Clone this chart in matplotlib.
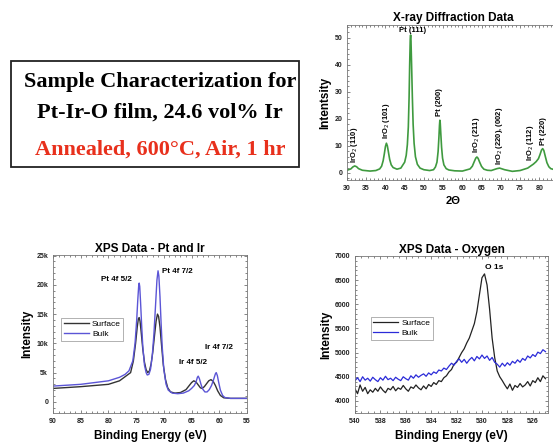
import numpy as np
import matplotlib
matplotlib.use('Agg')
import matplotlib.pyplot as plt
from matplotlib.patches import Rectangle

# ---- XRD data (2-theta, intensity) ----
xrd_2theta = [30, 31, 31.5, 32, 32.5, 33, 34, 36, 37.5, 38.5, 39, 39.4, 39.7, 40, 40.25, 40.5,
              40.8, 41.1, 41.5, 42, 43, 44, 45.0, 45.4, 45.7, 45.95, 46.15, 46.3, 46.45, 46.55,
              46.65, 46.8, 47.0, 47.2, 47.45, 47.8, 48.3, 49, 50, 51.5, 52.5, 53.0, 53.4, 53.7,
              53.9, 54.05, 54.15, 54.25, 54.4, 54.6, 54.85, 55.2, 55.8, 56.5, 58, 60, 62, 62.6,
              63.1, 63.5, 63.8, 64.1, 64.5, 65, 65.6, 66.5, 67.5, 69, 69.7, 71, 73, 75, 77,
              78.5, 79.2, 79.8, 80.2, 80.6, 80.9, 81.2, 81.6, 82, 82.5, 83, 84, 85.4]
xrd_int = [1.0, 1.5, 2.2, 2.6, 2.3, 1.6, 1.0, 0.7, 0.9, 1.5, 2.5, 4.5, 7.0, 9.8, 11.0, 10.0,
           7.5, 5.0, 3.0, 2.0, 1.4, 1.8, 4.0, 6.5, 10.5, 17.0, 28.0, 40.0, 49.5, 51.0,
           48.5, 40.0, 28.0, 18.0, 11.0, 6.0, 3.2, 1.8, 1.2, 0.9, 1.2, 2.2, 4.0, 8.0,
           13.0, 17.5, 19.5, 18.5, 14.5, 9.5, 5.5, 3.0, 1.6, 1.1, 0.8, 0.7, 1.5, 2.5,
           4.2, 5.5, 5.9, 5.4, 4.0, 2.4, 1.4, 1.0, 0.9, 1.6, 1.8, 1.2, 0.6, 0.9, 1.8,
           3.3, 4.2, 5.3, 6.8, 8.5, 9.0, 8.3, 6.0, 3.8, 2.3, 1.6, 1.2, 1.1]
xrd_labels = ['IrO$_2$ (110)', 'IrO$_2$ (101)', 'Pt (200)', 'IrO$_2$ (211)',
              'IrO$_2$ (220), (002)', 'IrO$_2$ (112)', 'Pt (220)']
xrd_label_x = [32, 40.25, 54.15, 63.8, 69.6, 77.6, 81.0]
xrd_label_y = [3.5, 12.5, 21.0, 7.5, 3.0, 4.5, 10.5]

# ---- XPS Pt / Ir data (binding energy, counts) ----
pt_surf_be = [90, 85, 80, 78, 77, 76, 75.5, 75.1, 74.8, 74.6, 74.45, 74.3, 74.1, 73.8, 73.5,
              73.2, 72.9, 72.6, 72.3, 72, 71.7, 71.4, 71.15, 70.95, 70.7, 70.4, 70.1, 69.7,
              69.3, 68.8, 68, 67, 66, 65.5, 65, 64.6, 64.2, 63.8, 63.4, 63.1, 62.7, 62.3, 61.9,
              61.5, 61.1, 60.7, 60.3, 59.8, 59.2, 58, 55]
pt_surf = [2300, 2600, 3000, 3600, 4300, 5000, 7000, 10000, 12800, 14200, 14400, 13800, 12000,
           9000, 6800, 5500, 5000, 5300, 6500, 8500, 11200, 13800, 15000, 14600, 12800, 9500,
           6300, 3800, 2400, 1700, 1500, 1600, 2100, 2700, 3300, 3600, 3400, 2900, 2400, 2300,
           2600, 3100, 3600, 3800, 3500, 2800, 1900, 1100, 700, 600, 600]
pt_bulk_be = [90, 85, 80, 78, 77, 76.3, 75.6, 75.2, 74.9, 74.7, 74.55, 74.45, 74.35, 74.2, 74.0,
              73.8, 73.5, 73.2, 73.0, 72.7, 72.4, 72.1, 71.8, 71.5, 71.25, 71.05, 70.9, 70.7,
              70.5, 70.3, 70.0, 69.6, 69.2, 68.5, 67.5, 66.5, 65.5, 65, 64.5, 64.2, 63.95, 63.8,
              63.6, 63.3, 63, 62.6, 62.2, 61.8, 61.4, 61.0, 60.7, 60.55, 60.35, 60.1, 59.8,
              59.4, 59, 58, 55]
pt_bulk = [2700, 3000, 3600, 4200, 4700, 5300, 7000, 10000, 14000, 17500, 19700, 20300, 19700,
           17000, 13000, 9500, 6300, 5000, 4600, 4700, 5600, 7800, 11500, 16500, 20800, 22400,
           21500, 18000, 13500, 9500, 5500, 3000, 2000, 1500, 1400, 1500, 1900, 2300, 2800,
           3400, 4200, 4400, 4000, 3000, 2200, 1700, 1700, 2100, 2800, 3900, 4800, 5000, 4500,
           3300, 2000, 1100, 750, 600, 600]
pt_peak_names = ['Pt 4f 5/2', 'Pt 4f 7/2', 'Ir 4f 5/2', 'Ir 4f 7/2']
pt_peak_x = [78.5, 70.4, 64.8, 60.0]
pt_peak_y = [20300, 21700, 6200, 8700]

# ---- XPS O 1s data (540 -> 525 eV, 0.2 eV steps) ----
o_be = np.linspace(540, 525, 76)
o_surf = [4250, 4150, 4330, 4200, 4280, 4150, 4230, 4180, 4260, 4200, 4290, 4220, 4170, 4260,
          4230, 4300, 4210, 4270, 4240, 4320, 4250, 4200, 4290, 4260, 4330, 4270, 4230, 4310,
          4250, 4340, 4300, 4380, 4340, 4420, 4400, 4480, 4520, 4600, 4650, 4760, 4800, 4900,
          5000, 5080, 5200, 5300, 5450, 5600, 5850, 6200, 6550, 6630, 6400, 5900, 5300, 4900,
          4620, 4500, 4420, 4330, 4250, 4350, 4220, 4320, 4280, 4360, 4290, 4330, 4400, 4310,
          4420, 4380, 4480, 4400, 4520, 4460]
o_bulk = [4420, 4480, 4400, 4500, 4430, 4470, 4410, 4490, 4440, 4400, 4480, 4430, 4510, 4440,
          4470, 4420, 4490, 4450, 4420, 4500, 4460, 4430, 4520, 4470, 4540, 4490, 4530, 4560,
          4510, 4580, 4540, 4600, 4570, 4640, 4620, 4680, 4650, 4720, 4780, 4740, 4820, 4870,
          4800, 4860, 4780, 4850, 4900, 4830, 4920, 4870, 4950, 4880, 4930, 4840, 4900, 4800,
          4760, 4700, 4780, 4720, 4790, 4740, 4820, 4780, 4850, 4800, 4880, 4840, 4930, 4890,
          4960, 4920, 5010, 4980, 5060, 5020]

W, H = 553, 447
fig = plt.figure(figsize=(W / 100, H / 100), dpi=100)
plt.rcParams['font.family'] = ['Liberation Sans', 'DejaVu Sans']


def box(l, t, r, b):
    # pixel box -> figure fraction
    return [l / W, 1 - b / H, (r - l) / W, (b - t) / H]


def style(ax):
    ax.minorticks_on()
    ax.tick_params(which='both', direction='in', top=True, right=True, labelsize=5,
                   width=0.5, colors='#555555', labelcolor='#222222')
    ax.tick_params(which='major', length=2.5)
    ax.tick_params(which='minor', length=1.3)
    for s in ax.spines.values():
        s.set_color('#777777')
        s.set_linewidth(0.6)
    for lab in ax.get_xticklabels() + ax.get_yticklabels():
        lab.set_fontweight('bold')


# ---- title box ----
fig.patches.append(Rectangle((11 / W, 1 - 167 / H), 288 / W, 106 / H, transform=fig.transFigure,
                             fill=False, ec='#222222', lw=1.3))
fig.text(160 / W, 1 - 82 / H, 'Sample Characterization for', ha='center', va='center',
         family='Liberation Serif', weight='bold', fontsize=16)
fig.text(160 / W, 1 - 113 / H, 'Pt-Ir-O film, 24.6 vol% Ir', ha='center', va='center',
         family='Liberation Serif', weight='bold', fontsize=16)
fig.text(160 / W, 1 - 150 / H, 'Annealed, 600\u00b0C, Air, 1 hr', ha='center', va='center',
         family='Liberation Serif', weight='bold', fontsize=16, color='#e8301c')

# ---- XRD ----
ax1 = fig.add_axes(box(347, 25, 560, 180))
ax1.plot(xrd_2theta, xrd_int, color='#3f9a3f', lw=1.2)
ax1.set_xlim(30, 85.4)
ax1.set_ylim(-2.6, 54.7)
ax1.set_xticks(range(30, 85, 5))
ax1.set_yticks(range(0, 55, 10))
style(ax1)
ax1.set_title('X-ray Diffraction Data', fontsize=8.5, weight='bold', pad=3)
ax1.set_xlabel('2\u0398', fontsize=8, weight='bold', labelpad=3)
ax1.set_ylabel('Intentsity', fontsize=8.5, weight='bold', labelpad=2)
for name, x, y in zip(xrd_labels, xrd_label_x, xrd_label_y):
    ax1.text(x, y, name, rotation=90, ha='center', va='bottom', fontsize=5.5, weight='bold')
ax1.text(47.0, 51.2, 'Pt (111)', ha='center', va='bottom', fontsize=5.5, weight='bold')

# ---- XPS Pt and Ir ----
ax2 = fig.add_axes(box(53, 255, 247, 413))
ax2.plot(pt_surf_be, pt_surf, color='#333333', lw=1.0, label='Surface')
ax2.plot(pt_bulk_be, pt_bulk, color='#5b55d6', lw=1.0, label='Bulk')
ax2.set_xlim(90, 55)
ax2.set_ylim(-1900, 25100)
ax2.set_xticks(range(90, 54, -5))
ax2.set_yticks(range(0, 25001, 5000))
ax2.set_yticklabels(['0', '5k', '10k', '15k', '20k', '25k'])
style(ax2)
ax2.set_title('XPS Data - Pt and Ir', fontsize=8.5, weight='bold', pad=2)
ax2.set_xlabel('Binding Energy (eV)', fontsize=8.5, weight='bold', labelpad=4)
ax2.set_ylabel('Intensity', fontsize=8.5, weight='bold', labelpad=2)
for name, x, y in zip(pt_peak_names, pt_peak_x, pt_peak_y):
    ha = 'left' if name == 'Pt 4f 7/2' else 'center'
    ax2.text(x, y, name, ha=ha, va='bottom', fontsize=5.8, weight='bold')
ax2.legend(loc='upper left', bbox_to_anchor=(0.02, 0.63), fontsize=6, frameon=True,
           fancybox=False, edgecolor='#777777', handlelength=3.0, borderpad=0.3,
           labelspacing=0.3, handletextpad=0.4).get_frame().set_linewidth(0.5)

# ---- XPS Oxygen ----
ax3 = fig.add_axes(box(355, 256, 548, 413))
ax3.plot(o_be, o_surf, color='#222222', lw=0.9, label='Surface')
ax3.plot(o_be, o_bulk, color='#2b2bd8', lw=0.9, label='Bulk')
ax3.set_xlim(540, 524.8)
ax3.set_ylim(3750, 7000)
ax3.set_xticks(range(540, 525, -2))
ax3.set_yticks(range(4000, 7001, 500))
style(ax3)
ax3.set_title('XPS Data - Oxygen', fontsize=8.5, weight='bold', pad=2)
ax3.set_xlabel('Binding Energy (eV)', fontsize=8.5, weight='bold', labelpad=4)
ax3.set_ylabel('Intensity', fontsize=8.5, weight='bold', labelpad=2)
ax3.text(529.8, 6680, 'O 1s', ha='left', va='bottom', fontsize=6, weight='bold')
ax3.legend(loc='upper left', bbox_to_anchor=(0.06, 0.64), fontsize=6, frameon=True,
           fancybox=False, edgecolor='#777777', handlelength=3.0, borderpad=0.3,
           labelspacing=0.3, handletextpad=0.4).get_frame().set_linewidth(0.5)

fig.savefig('out.png', dpi=100)
